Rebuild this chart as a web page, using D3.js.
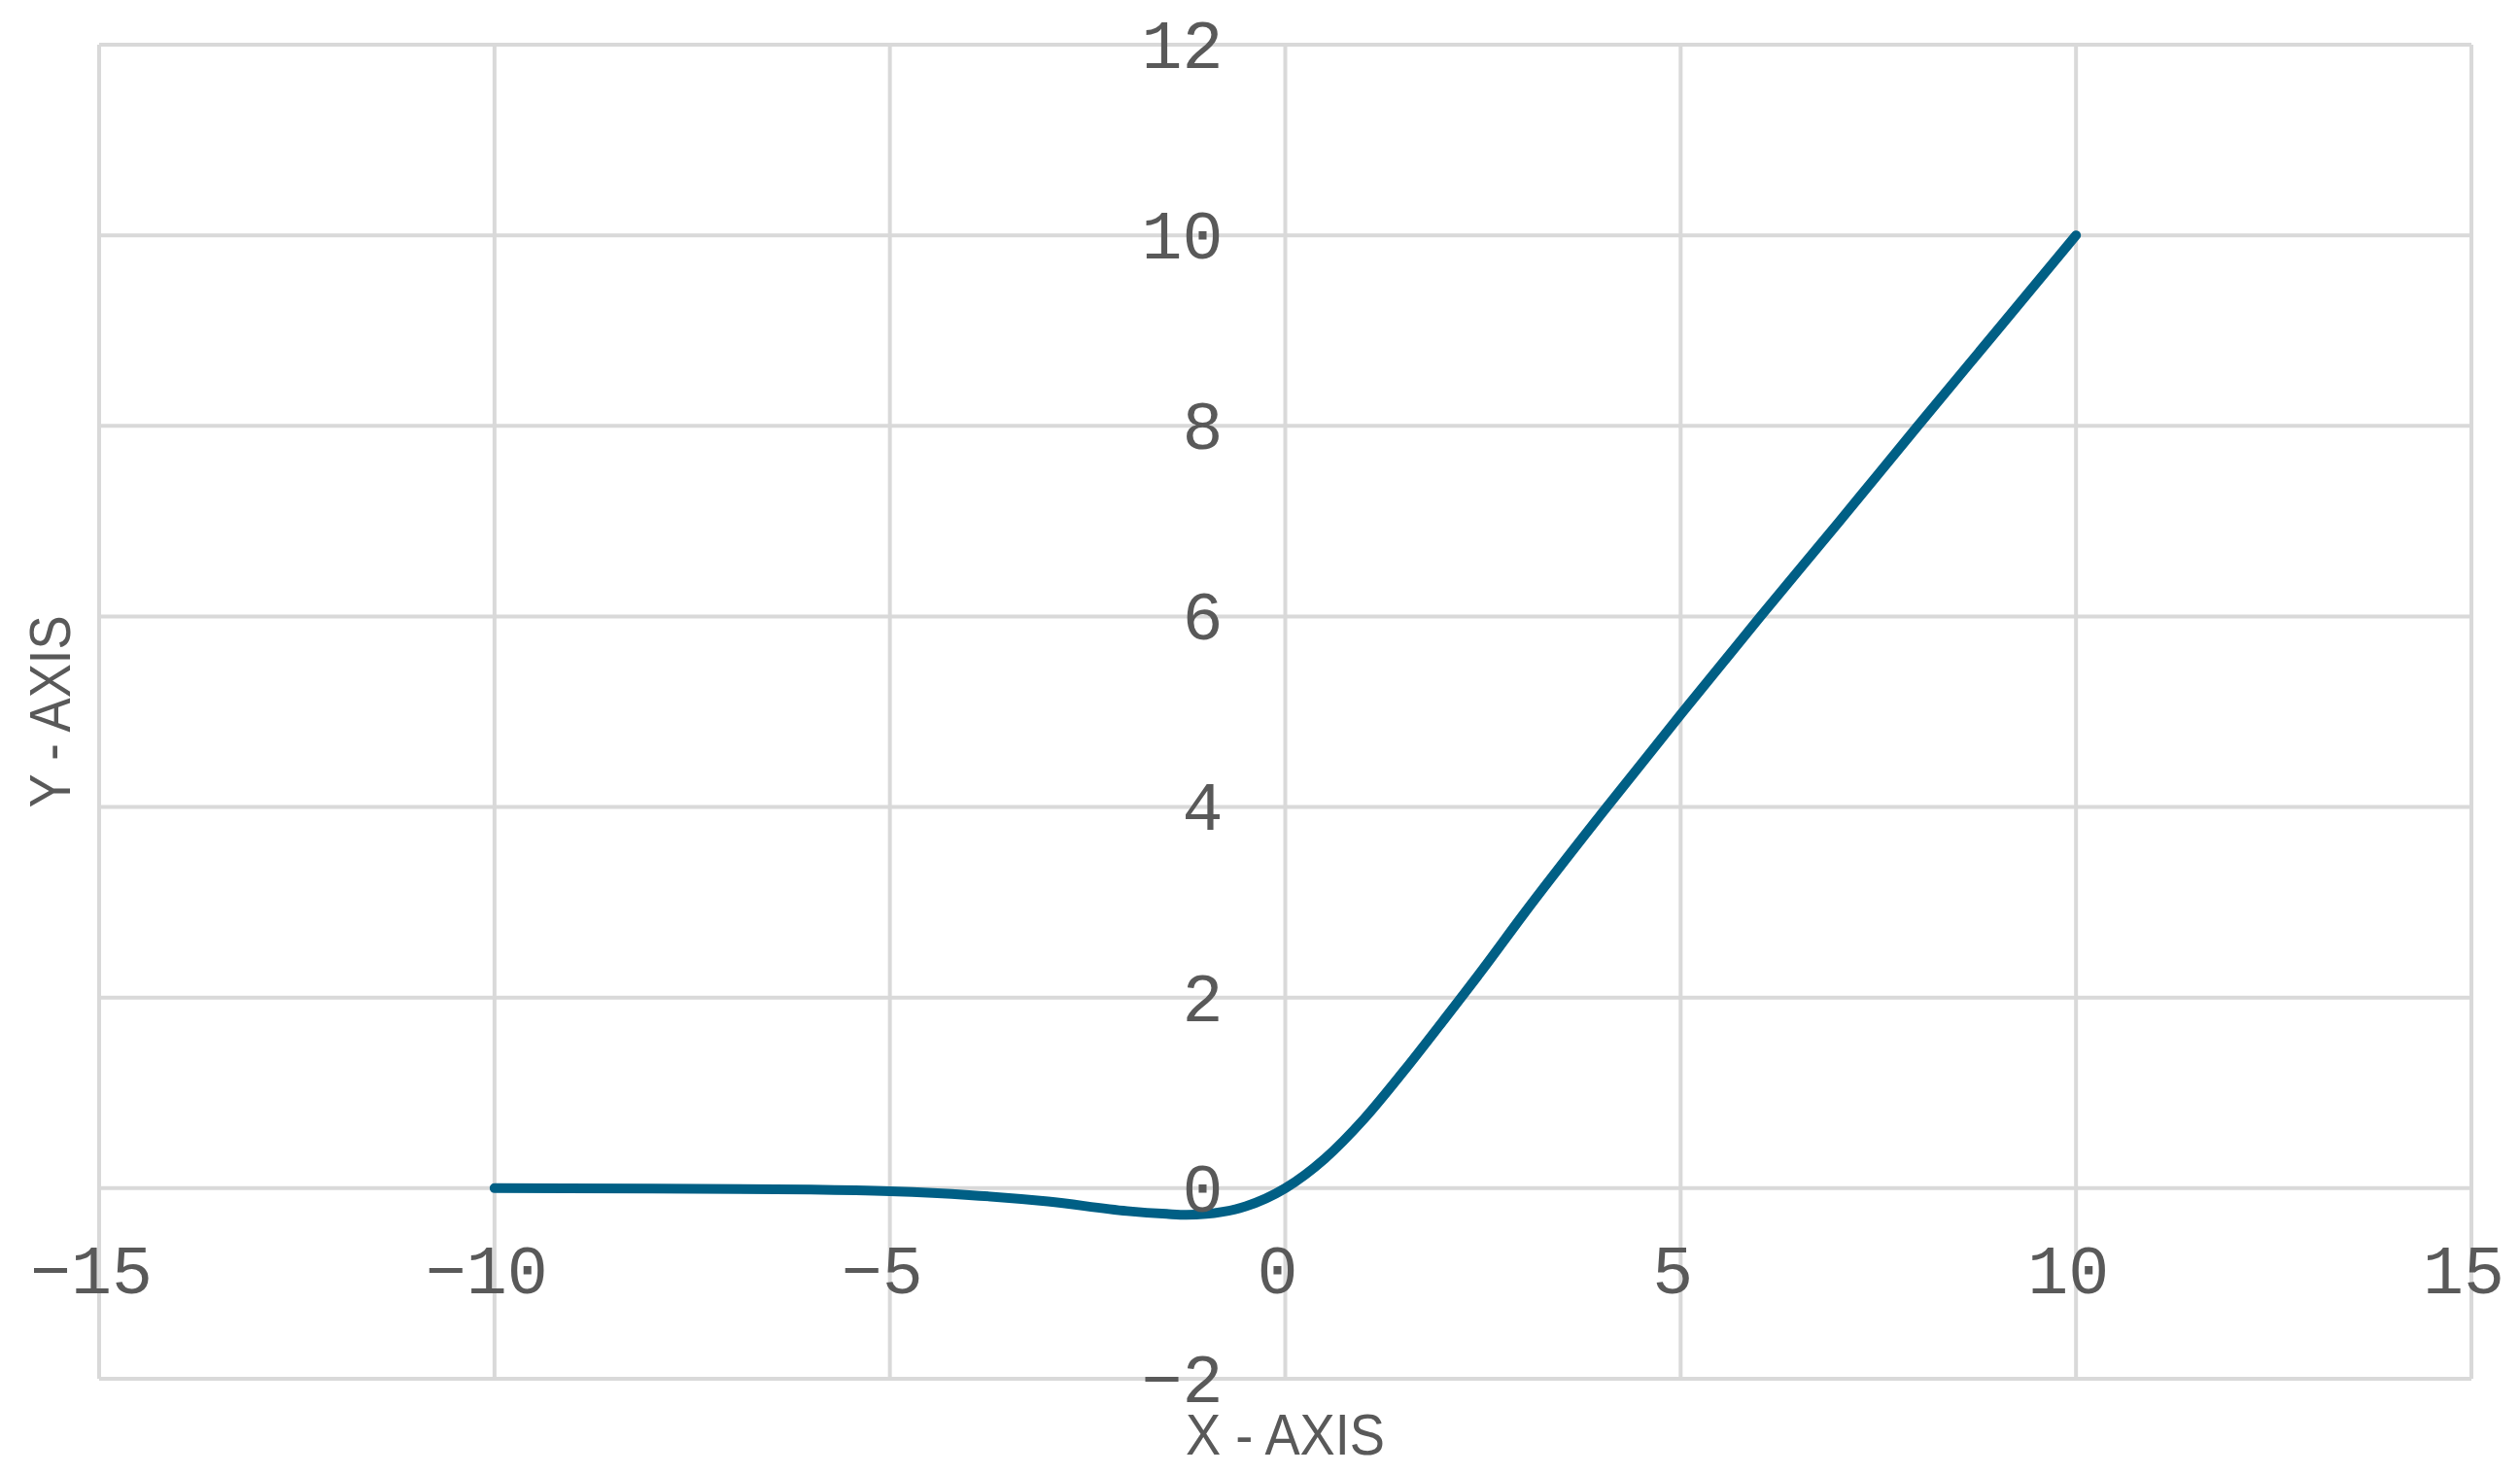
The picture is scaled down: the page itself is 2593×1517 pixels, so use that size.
<!DOCTYPE html>
<html lang="en">
<head>
  <meta charset="UTF-8">
  <title>Y vs X</title>
  <style>
body {
  margin: 0;
  background: #fff;
}
#chart text {
  fill: #595959;
}
.tick-label {
  font-family: 'Liberation Mono', 'DejaVu Sans Mono', monospace;
  font-size: 70px;
}
.axis-title {
  font-family: 'Liberation Sans', Arial, sans-serif;
  font-size: 60px;
}
  </style>
</head>
<body>
<svg id="chart" width="2593" height="1517"></svg>

<script src="https://d3js.org/d3.v7.min.js"></script>
<script>
/* global d3 */

// curve
var xValues = [-10, -8, -6, -5, -4, -3, -2, -1.5, -1.25, -1, -0.5, 0, 0.5, 1, 1.5, 2, 2.5, 3, 4, 5, 6, 7, 8, 9, 10];
var yValues = [0, -0.003, -0.015, -0.033, -0.072, -0.14, -0.24, -0.27, -0.28, -0.27, -0.19, 0, 0.31, 0.73, 1.23, 1.76, 2.3, 2.86, 3.93, 4.97, 5.99, 6.99, 8.0, 9.0, 10.0];

var xTicks = [-15, -10, -5, 0, 5, 10, 15];
var yTicks = [-2, 0, 2, 4, 6, 8, 10, 12];

var xTitle = "X - AXIS";
var yTitle = "Y - AXIS";

var width = 2593,
    height = 1517,
    margin = {top: 46, right: 50, bottom: 98, left: 102};

var svg = d3.select("#chart");

var x = d3.scaleLinear()
  .domain([-15, 15])
  .range([margin.left, width - margin.right]);

var y = d3.scaleLinear()
  .domain([-2, 12])
  .range([height - margin.bottom, margin.top]);

var fmt = d3.format("d");

// grid
var grid = svg.append("g").attr("class", "grid")
  .attr("stroke", "#d9d9d9")
  .attr("stroke-width", 4);

grid.selectAll("line.v")
  .data(xTicks)
  .enter().append("line")
    .attr("class", "v")
    .attr("x1", function (d) { return x(d); })
    .attr("x2", function (d) { return x(d); })
    .attr("y1", y(-2))
    .attr("y2", y(12));

grid.selectAll("line.h")
  .data(yTicks)
  .enter().append("line")
    .attr("class", "h")
    .attr("x1", x(-15))
    .attr("x2", x(15))
    .attr("y1", function (d) { return y(d); })
    .attr("y2", function (d) { return y(d); });

// curve
var data = xValues.map(function (d, i) { return {x: d, y: yValues[i]}; });

var line = d3.line()
  .x(function (d) { return x(d.x); })
  .y(function (d) { return y(d.y); })
  .curve(d3.curveMonotoneX);

svg.append("path")
  .datum(data)
  .attr("fill", "none")
  .attr("stroke", "#005f85")
  .attr("stroke-width", 10)
  .attr("stroke-linecap", "round")
  .attr("stroke-linejoin", "round")
  .attr("d", line);

// tick labels: x below the zero line, y left of the zero line
svg.append("g")
  .selectAll("text")
  .data(xTicks)
  .enter().append("text")
    .attr("class", "tick-label")
    .attr("x", function (d) { return x(d) - 8; })
    .attr("y", y(0) + 108)
    .attr("text-anchor", "middle")
    .text(function (d) { return fmt(d); });

svg.append("g")
  .selectAll("text")
  .data(yTicks)
  .enter().append("text")
    .attr("class", "tick-label")
    .attr("x", x(0) - 64)
    .attr("y", function (d) { return y(d); })
    .attr("dy", "0.34em")
    .attr("text-anchor", "end")
    .text(function (d) { return fmt(d); });

// titles
svg.append("text")
  .attr("class", "axis-title")
  .attr("x", (x(-15) + x(15)) / 2)
  .attr("y", 1497)
  .attr("text-anchor", "middle")
  .attr("textLength", 205)
  .attr("lengthAdjust", "spacingAndGlyphs")
  .text(xTitle);

svg.append("text")
  .attr("class", "axis-title")
  .attr("transform", "translate(72," + ((y(-2) + y(12)) / 2) + ") rotate(-90)")
  .attr("text-anchor", "middle")
  .attr("textLength", 198)
  .attr("lengthAdjust", "spacingAndGlyphs")
  .text(yTitle);
</script>
</body>
</html>
